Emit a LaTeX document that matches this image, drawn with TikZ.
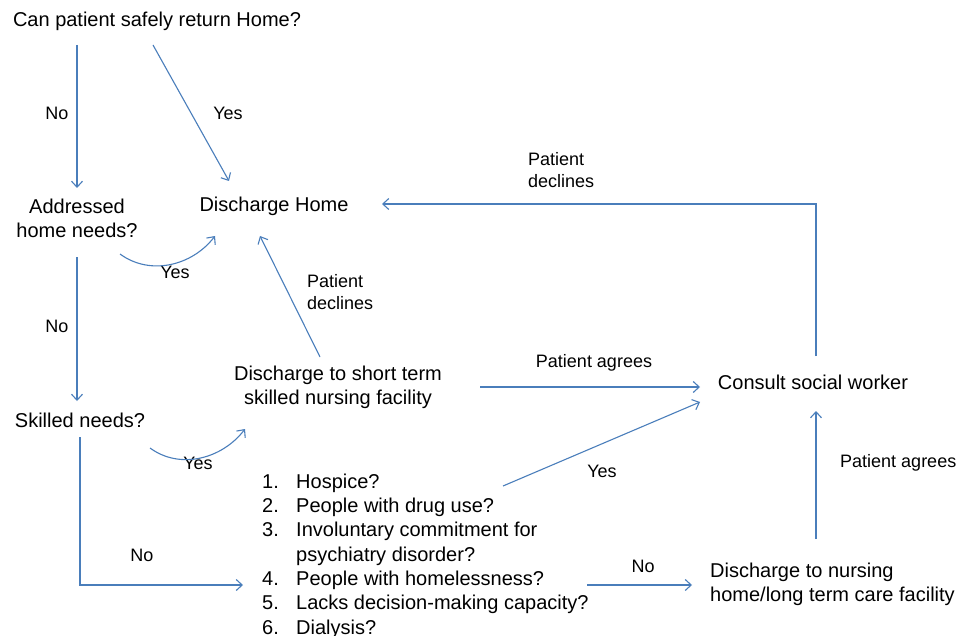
\documentclass[tikz,border=0pt]{standalone}
\usepackage{fontspec}
\setmainfont{Liberation Sans}
\usetikzlibrary{arrows.meta}
\definecolor{lineblue}{RGB}{74,126,187}
\begin{document}
\begin{tikzpicture}[x=1pt,y=-1pt,
  txt/.style={inner sep=0pt, font=\fontsize{20}{24}\selectfont, text=black},
  lbl/.style={inner sep=0pt, font=\fontsize{18}{22}\selectfont, text=black},
  arr/.style={draw=lineblue, line width=1.1pt, -{Straight Barb[length=6pt,width=11pt,line width=1.1pt]}}]
\useasboundingbox[fill=white] (0,0) rectangle (960,636);

% main nodes
\node[txt] (title) at (157,21) {Can patient safely return Home?};
\node[txt, align=center] (addr) at (77,218) {Addressed\\home needs?};
\node[txt] (home) at (274,206) {Discharge Home};
\node[txt] (skilled) at (80,420) {Skilled needs?};
\node[txt, align=center] (snf) at (338,387) {Discharge to short term\\skilled nursing facility};
\node[txt] (csw) at (813,382) {Consult social worker};
\node[txt, anchor=west, align=left] (nh) at (710,584) {Discharge to nursing\\home/long term care facility};
\node[txt, anchor=west, align=left, font=\fontsize{20}{24.3}\selectfont] (list) at (262,556)
  {\makebox[34pt][l]{1.}Hospice?\\
   \makebox[34pt][l]{2.}People with drug use?\\
   \makebox[34pt][l]{3.}Involuntary commitment for\\
   \makebox[34pt][l]{}psychiatry disorder?\\
   \makebox[34pt][l]{4.}People with homelessness?\\
   \makebox[34pt][l]{5.}Lacks decision-making capacity?\\
   \makebox[34pt][l]{6.}Dialysis?};

% labels
\node[lbl] (no1) at (57,113) {No};
\node[lbl] (yes1) at (228,113) {Yes};
\node[lbl] (yes2) at (175,272) {Yes};
\node[lbl] (no2) at (57,326) {No};
\node[lbl] (yes3) at (198,463) {Yes};
\node[lbl] (no3) at (142,555) {No};
\node[lbl, anchor=west, align=left] (decl1) at (307,292) {Patient\\declines};
\node[lbl, anchor=west, align=left] (decl2) at (528,170) {Patient\\declines};
\node[lbl] (agree1) at (594,363) {Patient agrees};
\node[lbl] (yes4) at (602,471) {Yes};
\node[lbl] (no4) at (643,566) {No};
\node[lbl, anchor=west] (agree2) at (840,463) {Patient agrees};

% connectors
\draw[arr] ([shift={(-80,24)}]title.center) -- ([shift={(0,-30)}]addr.center);
\draw[arr] ([shift={(-4,24)}]title.center) -- ([shift={(-45,-25)}]home.center);
\draw[arr] ([shift={(43,36)}]addr.center) .. controls +(30,22) and +(-23,30) .. ([shift={(-59,30)}]home.center);
\draw[arr] ([shift={(0,39)}]addr.center) -- ([shift={(-3,-19)}]skilled.center);
\draw[arr] ([shift={(70,28)}]skilled.center) .. controls +(30,22) and +(-23,30) .. ([shift={(-93,42)}]snf.center);
\draw[arr] ([shift={(0,17)}]skilled.center) |- ([shift={(-19,29)}]list.west);
\draw[arr] ([shift={(-18,-30)}]snf.center) -- ([shift={(-14,30)}]home.center);
\draw[arr] ([shift={(142,0)}]snf.center) -- ([shift={(-113,5)}]csw.center);
\draw[arr] ([shift={(241,-70)}]list.west) -- ([shift={(-113,20)}]csw.center);
\draw[arr] ([shift={(325,29)}]list.west) -- ([shift={(-18,1)}]nh.west);
\draw[arr] ([shift={(106,-45)}]nh.west) -- ([shift={(3,29)}]csw.center);
\draw[arr] ([shift={(3,-26)}]csw.center) |- ([shift={(108,-2)}]home.center);
\end{tikzpicture}
\end{document}
